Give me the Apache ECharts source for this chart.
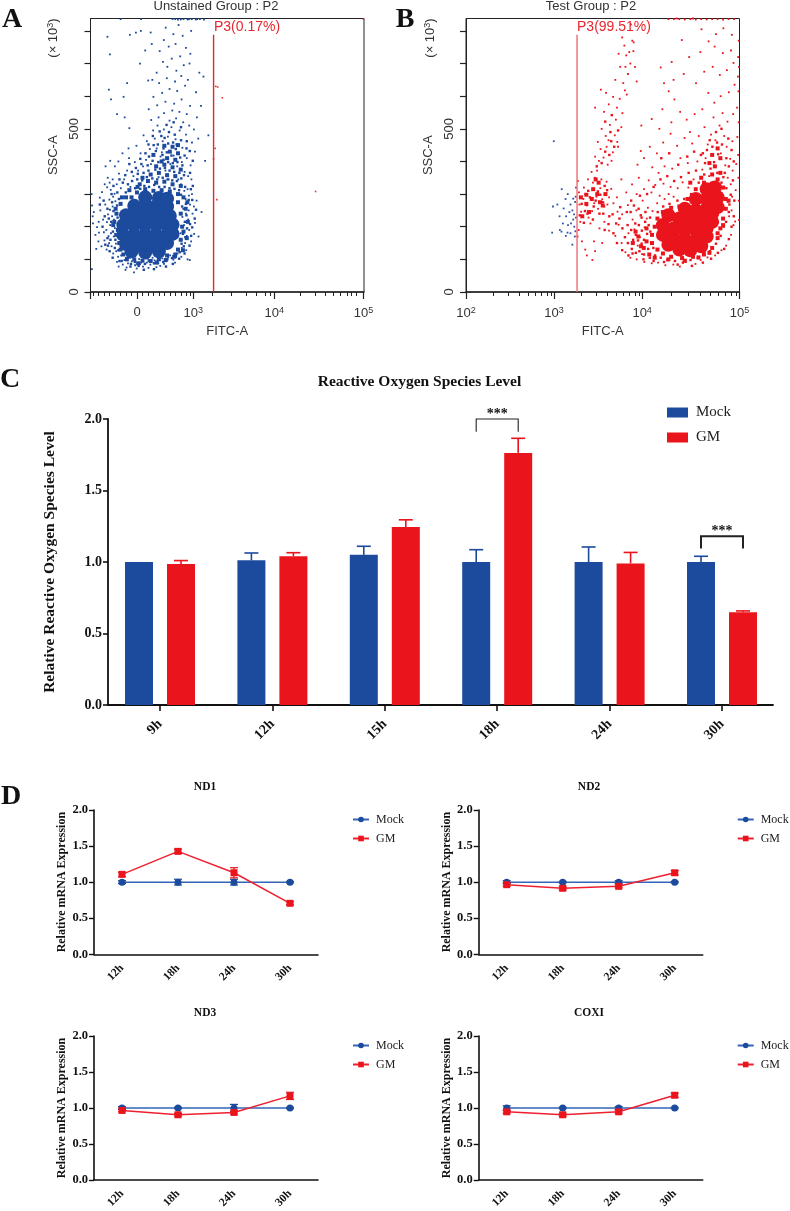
<!DOCTYPE html>
<html><head><meta charset="utf-8">
<style>html,body{margin:0;padding:0;background:#fff}#c{width:790px;height:1211px;filter:blur(0.35px)}</style>
<script src="https://cdn.jsdelivr.net/npm/echarts@6/dist/echarts.min.js"></script>
</head><body><div id="c"></div>
<script>
/* ---------- panel C data ---------- */
const hoursC = ['9h','12h','15h','18h','24h','30h'];
const mockC = [1.0,1.012,1.05,1.0,1.0,1.0];
const mockTopC = [1.0,1.063,1.11,1.086,1.105,1.04];
const gmC = [0.986,1.04,1.244,1.763,0.99,0.649];
const gmTopC = [1.01,1.065,1.295,1.865,1.067,0.658];
/* bracket: group index, top value, foot value */
const bracketsC = [[3,2.0,1.91],[5,1.18,1.095]];

/* ---------- panel D data ---------- */
const hoursD = ['12h','18h','24h','30h'];
const mockD = [1,1,1,1];
const gmND1 = [1.108,1.427,1.13,0.707];
const gmND2 = [0.965,0.915,0.942,1.13];
const gmND3 = [0.966,0.906,0.938,1.168];
const gmCOXI = [0.947,0.906,0.947,1.177];
const mockErrND1 = [0.02,0.04,0.04,0.01];
const gmErrND1 = [0.03,0.03,0.07,0.02];
const mockErrND2 = [0.02,0.01,0.02,0.01];
const gmErrND2 = [0.02,0.02,0.02,0.03];
const mockErrND3 = [0.02,0.01,0.05,0.01];
const gmErrND3 = [0.02,0.02,0.02,0.05];
const mockErrCOXI = [0.03,0.01,0.02,0.01];
const gmErrCOXI = [0.02,0.02,0.02,0.03];

/* ---------- panels A, B: events, as x,y pairs.
   x = percent of the plot width along FITC-A, y = SSC-A (x1000 channel units) ---------- */
const coreA = [15,125,20,122,25,125, 13,147,17,145,21,144,25,146,28,150, 12,175,16,174,20,176,24,175,28,176,30,178,
 12,205,16,204,20,206,24,205,28,204,30,206, 13,235,17,234,21,236,25,235,29,233, 16,264,20,266,24,263,28,262, 20,290,25,288,28,286];
const midA = [17,305,20,315,23,310,26,312,29,308,32,300,18,330,21,340,24,335,27,338,30,330,33,325,22,360,25,365,28,358,31,355,
 24,385,27,390,30,382,33,375,28,410,31,405,29,430,32,425,30,445,27,448,13,290,11,270,9.5,240,10,190,10.5,150,33,160,33.5,200,33,240,
 12,115,16,100,22,95,28,112,32,130,15,290,19,350,26,400,23,420,32,450,8.7,215,11,130,14,108,19,96,25,100,31,115,34,185,32,275,34,290,
 9.4,175,8.3,205,9.2,255,11.5,290,14.2,312,17.2,322,13.3,100,17.4,88,20.6,106,24.2,90,27.5,98,30.6,108,33.8,128,35.2,165,35.6,215,34.8,255,35.4,275];
const fineA = [9.1,160,8.2,185,7.6,215,9.9,228,8.4,248,9.7,265,10.4,285,7.9,275,6.7,225,7.3,160,8.9,135,10.2,128,11.4,95,13.1,104,14.8,86,16.2,92,17.6,80,19.9,86,21.3,96,23.2,88,24.6,96,26.6,92,28.1,100,29.8,104,31.2,108,32.6,122,34.1,140,33.3,148,34.7,168,33.8,178,35.3,195,34.5,215,36.4,208,35.1,235,33.5,262,34.9,270,35.9,282,33.1,298,34.6,322,
 12.9,305,14.4,312,16.3,318,18.2,316,19.7,325,21.4,322,23.3,328,25.1,322,27.1,322,28.9,318,30.7,316,32.4,312,13.7,330,15.2,340,17.1,345,18.9,342,20.6,352,22.6,348,24.4,345,26.4,350,28.2,345,29.9,342,31.6,340,33.2,348,15.1,368,17.3,362,19.4,365,21.2,372,23.7,375,25.4,378,27.2,380,28.9,372,30.6,368,32.5,365,34.2,358,18.6,392,20.9,388,22.7,402,24.8,398,26.7,405,28.4,398,30.1,395,31.8,398,33.6,388,21.4,415,23.9,432,26.3,420,27.9,428,29.6,418,31.2,438,32.8,412,34.4,418,24.6,452,26.7,440,28.4,455,30.2,458,31.5,452,33.1,465,35.1,440,23.1,450,25.9,478,28.7,490,30.8,482,27.1,472,
 5.4,145,6.2,165,4.4,200,5.2,232,6.2,255,4.8,280,3.4,268,7.7,300,8.4,325,9.8,305,11.8,335,10.6,345,12.7,358,14.2,392,16.6,380,18.2,408,20.1,425,21.2,452,22.8,478,25.3,492,27.8,512,30.4,520,33.1,505,35.2,462,36.3,432,37.4,402,36.4,365,37.4,325,36.7,315,37.2,282,38.6,252,38.1,225,37.2,198,36.8,172,36.2,142,34.4,118,32.4,102,30.1,86,27.6,78,23.2,70,19.5,68,14.6,78,10.6,95,8.1,105,7.0,125,6.4,142];
const fringeA = [8.5,170,7.2,205,6.4,238,8.1,262,9.3,148,5.8,190,4.6,222,7.7,140,6.9,283,8.8,301,5.1,158,3.6,250,2.4,199,4.2,306,6.1,321,7.9,232,8.9,196,9.4,125,10.1,108,8.3,118,6.6,171,5.4,268,3.1,182,1.2,245,0.6,265,0.9,210,2.1,132,0.5,70,3.4,289,7.4,313,9.6,330,8.1,345,6.3,350,10.4,363,
 7.1,252,6.0,214,4.9,183,8.6,222,7.5,180,6.8,150,5.9,130,9.1,278,8.3,292,7.0,335,5.2,330,3.0,215,1.8,175,0.8,232,0.4,300,2.9,155,4.0,140,
 11.2,112,12.4,98,13.7,88,15.1,94,16.3,82,17.8,101,19.2,78,20.6,90,21.9,84,23.4,97,24.8,88,26.2,103,27.7,94,29.1,112,30.3,99,31.8,118,33.2,108,14.2,110,18.5,90,22.7,105,25.5,80,28.4,106,16.9,72,13.2,75,11.8,84,9.7,92,15.9,60,10.3,78,21.2,74,26.9,86,30.9,90,35.5,100,36.3,98,12.8,68,18.1,85,24.1,76,
 33.4,135,34.6,150,35.2,172,36.1,190,34.2,205,35.7,222,37.3,240,33.9,255,36.4,268,38.2,212,34.8,285,37.1,300,39.5,170,35.5,315,33.1,330,36.9,345,38.8,280,40.6,245,32.9,180,33.6,230,35.0,128,36.8,155,37.9,178,34.9,240,36.0,295,35.9,250,34.3,310,37.8,262,
 14.6,322,12.3,345,11.1,318,15.7,355,13.4,372,17.4,372,19.2,385,16.2,398,14.1,410,20.3,405,22.1,392,18.3,425,21.7,438,24.2,440,20.6,462,23.5,470,26.4,462,28.3,476,31.1,468,33.6,442,35.2,410,36.6,388,34.4,368,35.7,355,38.2,430,37.1,458,34.9,482,32.6,495,29.6,505,26.8,498,24.5,510,22.9,495,19.4,480,16.8,448,13.9,440,11.7,425,10.2,400,8.9,385,7.2,402,5.5,385,31.7,385,26.1,428,29.2,392,32.1,345,28.6,345,24.9,352,25.6,415,27.4,372,30.4,418,33.4,398,
 28.9,525,31.3,532,33.9,520,36.1,510,24.9,535,22.2,527,26.9,548,29.9,556,32.5,552,35.2,545,37.8,498,39.4,470,41.9,402,43.1,480,21.3,560,24.4,572,27.4,583,30.6,577,33.3,590,36.4,570,23.0,598,26.2,610,28.9,622,31.7,616,34.6,632,25.1,640,27.9,655,30.9,645,33.2,662,35.6,650,22.6,650,24.2,672,28.1,690,31.4,678,34.1,695,36.2,700,26.5,705,29.7,715,32.8,722,36.5,730,25.3,738,28.6,752,31.1,760,34.9,748,26.8,772,30.3,790,33.7,785,27.5,810,32.2,818,36.8,800,
 38.9,535,40.4,570,38.6,612,41.3,660,39.8,672,14.2,502,12.5,535,9.7,545,7.5,590,12.1,598,13.4,640,6.7,620,7.1,728,6.2,782,14.4,788,18.4,800,16.6,795,21.1,648,18.1,700,20.0,740,22.4,760,22.0,795,
 11,836,18.5,836,30,836,32,835,34,836,35.5,835,37,836,38.5,835,40,836,41.5,835,36,836,33,835,31,836,39,836];
const pinkA = [99.8,836,45.8,630,46.5,628,48.2,595,45.6,440,45,408,46.2,283,82.3,308];

const coreB = [74,145,78,130,82,128,86,140, 72,175,76,165,80,160,84,160,88,170, 72,205,76,195,80,190,84,190,88,195,90,215, 74,235,78,225,82,220,86,220,90,240, 80,255,84,250,88,255,92,260, 84,285,88,285,92,290, 88,315,91,320];
const midB = [70,130,72,118,75,108,79,104,83,108,87,115,90,135,92,165,93,195,94,225,95,255,95,285,94,320,92,345,90,360,87,335,84,315,81,285,78,262,75,258,72,245,70,225,69,200,68,175,68,150,
 91,385,93,410,90,420,92,440,89,395,93,365,46,285,48,300,46.5,315,49,275,44,270,42,290,48.5,335,45,245,42.5,232,51,300,66,155,65,135,63,170,61,150,67,115,
 66,195,64,140,62,185,69,105,74,100,80,96,85,106,89,120,92,180,94,205,96,280,93,300,90,332,86,350,82,335,47.4,345,44,298,50,265];
const fineB = [66.2,178,65.1,160,64.3,188,63.2,205,62.1,175,61.1,160,60.4,190,59.1,205,58.1,168,57.2,195,56.1,225,54.9,210,53.6,238,52.4,232,66.8,205,67.3,228,65.6,245,64.2,228,63.1,255,61.4,265,60.2,245,69.1,112,67.2,105,65.1,115,63.4,125,68.5,135,66.6,132,64.2,148,62.1,120,60.6,132,59.2,150,71.2,105,73.6,98,76.4,95,79.3,90,82.1,98,84.8,104,87.1,122,89.2,125,91.4,148,93.1,172,94.2,200,95.1,215,96.1,245,96.3,268,96.8,298,95.2,318,93.4,335,94.1,352,91.9,365,89.4,378,87.1,360,85.1,335,82.3,300,79.8,285,77.3,280,74.4,270,72.1,262,70.1,245,
 90.7,398,92.2,422,88.1,435,90.1,445,91.8,458,93.6,452,95.2,410,96.1,385,94.6,365,87.4,395,85.9,420,83.4,430,80.9,415,77.6,390,74.3,425,71.4,410,
 43.5,248,44.4,240,45.3,290,46.7,262,47.4,280,48.2,308,49.1,298,50.1,275,50.7,325,51.6,312,44.7,310,43.1,212,42.3,270,41.6,235,48.8,240,46.4,222,50.2,240,
 47.8,385,49.6,395,50.9,430,52.4,420,53.1,462,54.2,445,52.8,490,50.9,522,53.3,542,55.6,495,
 57.1,128,55.2,150,53.9,180,52.1,208,50.7,190,61.9,210,63.9,235,65.5,215,67.4,185,60.9,118,62.9,158,58.8,245,56.4,260,60.4,280,63.6,295,66.2,300,68.6,322,71.1,345,73.6,355,76.1,340,78.6,352,81.4,365,84.1,372,86.6,425,89.1,465,91.4,490,93.4,500,95.9,470,97.1,435,97.9,400,97.6,342,98.1,280,97.9,232,97.1,200,96.1,162,94.4,132,92.1,120,89.6,102,86.6,90,82.6,80,77.4,84,72.4,92,68.6,95,64.9,100,59.4,112];
const fringeB = [41.2,190,41.8,215,42.1,246,41.5,268,42.9,285,43.6,300,44.2,265,44.8,228,45.5,210,46.1,248,46.9,272,47.7,292,48.3,255,49.1,318,49.8,284,50.6,262,51.4,338,52.3,290,53.1,316,47.1,350,45.9,368,47.9,372,49.5,345,46.4,335,43.1,320,41.3,305,44.6,345,50.7,300,51.7,268,53.9,272,55.4,246,
 47.2,415,48.6,402,50.3,412,51.8,390,53.2,402,49.2,438,51.4,445,53.7,428,55.3,460,54.4,480,51.1,478,49.6,500,52.6,512,54.8,528,56.8,505,50.5,552,52.2,575,55.2,565,57.2,548,51.2,610,53.8,598,56.2,592,58.8,605,47.2,565,49.3,620,54.6,650,57.5,640,59.2,668,56.4,690,60.1,700,58.6,725,61.2,738,60.8,770,57.9,755,55.8,730,61.8,690,62.4,645,58.1,618,55.6,445,52.1,465,48.2,460,
 60.3,820,61.3,765,58.3,690,59.7,735,57.1,780,
 49.8,150,46.8,155,47.2,125,48.8,195,50.6,215,52.3,188,54.6,172,55.8,206,56.9,150,58.3,122,59.4,180,60.9,222,61.6,192,62.8,142,63.6,168,64.4,116,65.3,198,66.1,225,62.3,250,59.2,266,57.1,238,55.2,290,58.6,305,60.7,330,56.8,345,62.4,300,64.6,280,66.5,258,68.2,248,69.9,272,65.1,315,67.8,305,70.8,295,72.6,285,74.1,300,75.9,292,63.2,350,66.8,342,69.2,328,72.2,332,74.8,322,77.4,318,79.2,336,81.3,320,83.2,345,
 60.1,105,62.4,100,65.2,92,67.9,88,70.2,90,72.9,82,75.8,84,78.2,78,80.4,92,83.9,86,85.8,98,88.3,106,91.1,112,93.4,128,95.1,142,96.9,175,97.8,205,98.4,216,96.2,232,97.1,250,95.8,276,97.3,292,98.6,312,96.8,330,95.7,350,97.5,372,98.8,392,96.6,408,94.8,388,93.2,425,95.3,445,97.4,462,99.2,475,94.4,478,91.2,465,88.4,452,89.6,482,92.7,510,95.6,522,97.7,545,99.1,565,93.8,548,90.5,535,87.2,505,85.1,478,82.7,455,79.9,472,77.2,448,74.8,485,72.1,458,69.8,425,67.2,445,65.1,410,62.7,390,63.9,432,
 84.6,400,87.6,410,81.1,395,78.4,410,75.4,378,72.6,385,70.4,365,68.1,382,86.4,375,88.9,355,
 90.8,580,93.1,600,96.1,612,98.2,635,99.4,660,88.6,610,86.4,560,83.6,545,80.7,528,78.3,552,76.2,590,74.1,615,71.8,560,72.4,640,75.9,650,79.6,668,84.1,640,87.1,675,90.2,690,92.8,665,95.4,680,97.8,702,99.5,720,96.9,740,93.9,732,90.9,752,88.7,768,85.7,735,81.6,720,78.9,772,75.2,705,71.2,688,91.4,790,94.1,808,97.2,788,99.7,770,86.1,805,64.1,510,67.9,530,70.7,500,75.1,520,81.9,490,
 74,836,76,836,78,836,80,835,82,836,84,835,86,836,88,835,90,836,92,836,94,835,96,836,98,836,83,838,77,838,
 99.6,615,99.7,520,99.5,420,99.8,690,99.6,350,99.7,280,99.8,220,
 42.4,155,43.6,130,44.2,112,46.2,98,40.8,170,40.9,340];
const blueB = [32.1,462,35.0,315,31.8,262,31.5,182,33.4,268,34.2,232,35.7,256,36.4,285,37.2,300,38.2,268,38.9,250,39.5,238,40.2,320,40.1,292,39.9,276,39.2,222,38.4,210,37.3,205,36.6,232,35.4,210,34.3,190,34.9,185,36.5,172,37.1,182,38.2,180,39.6,200,40.0,186,39.8,170,40.2,228,38.9,145,39.2,286,37.8,245];

/* axis tick positions, percent of plot width */
const majorTicksA = [0,17.07,37.6,67.2,99.8];
const majorLabelsA = {17.07:'0',37.6:'10{s|3}',67.2:'10{s|4}',99.8:'10{s|5}'};
const minorTicksA = [1,3,5,7,9,11,13,15,19,21,23,25,27,29,31,33,35,36.5,44.5,51.6,57,60.7,63.8,65.6,76.6,82,85.7,88.8,91.2,93.7,95.5,97.3];
const majorTicksB = [0,32.2,64.4,100];
const majorLabelsB = {0:'10{s|2}',32.2:'10{s|3}',64.4:'10{s|4}',100:'10{s|5}'};
const minorTicksB = [10,15.6,19.5,22.7,25.4,27.6,29.7,31.3,42.2,47.8,51.7,54.9,57.6,59.8,61.9,63.5,75.1,81.4,85.8,89.3,92.3,94.8,97.1,98.8];
const sscTicks = [0,100,200,300,400,500,600,700,800];
const gateA = [[45,0],[45,788]];
const gateB = [[40.6,0],[40.6,788]];

/* ---------- styling ---------- */
const BLUE='#1c4a9c', RED='#ea141c', LBLUE='#3565b8', LRED='#ee2030', INK='#111';
const SANS='"Liberation Sans",Arial,sans-serif', SERIF='"Liberation Serif","Times New Roman",serif';
const pairs = f => { const o=[]; for(let i=0;i<f.length;i+=2) o.push([f[i],f[i+1]]); return o; };

const grid=[], xAxis=[], yAxis=[], series=[], legend=[], title=[], graphic=[];
const addTitle=(text,x,y,size,font,color)=>title.push({text,left:x,top:y,padding:0,textAlign:'center',textVerticalAlign:'middle',
  textStyle:{fontFamily:font,fontSize:size,fontWeight:font===SERIF?'bold':'normal',color:color||(font===SERIF?'#111':'#333')}});

/* ---------- flow panels ---------- */
function flow(o){
  const g=grid.length;
  grid.push({left:o.x,top:18.5,width:273.5,height:273.5,show:true,borderColor:'#222',borderWidth:1,backgroundColor:'transparent'});
  const xi=xAxis.length, yi=yAxis.length;
  const richS={s:{fontSize:9,verticalAlign:'top',padding:[0,0,5,0],fontFamily:SANS,color:'#333'}};
  xAxis.push({gridIndex:g,type:'value',min:0,max:100,position:'bottom',splitLine:{show:false},
    axisLine:{show:true,onZero:false,lineStyle:{color:'#222',width:1.5}},
    axisTick:{show:true,length:7,customValues:o.major,lineStyle:{color:'#222',width:1.2}},
    axisLabel:{show:true,margin:14,fontFamily:SANS,fontSize:13,color:'#333',customValues:o.major.filter(v=>o.labels[v]!==undefined),
      formatter:v=>o.labels[v]||'',rich:richS},
    name:'FITC-A',nameLocation:'middle',nameGap:33,nameTextStyle:{fontFamily:SANS,fontSize:13,color:'#333'}});
  xAxis.push({gridIndex:g,type:'value',min:0,max:100,position:'bottom',splitLine:{show:false},
    axisLine:{show:false,onZero:false},axisTick:{show:true,length:4,customValues:o.minor,lineStyle:{color:'#222',width:1}},axisLabel:{show:false}});
  yAxis.push({gridIndex:g,type:'value',min:0,max:838,position:'left',splitLine:{show:false},
    axisLine:{show:true,onZero:false,lineStyle:{color:'#222',width:1}},
    axisTick:{show:true,length:6,customValues:sscTicks,lineStyle:{color:'#222',width:1.2}},
    axisLabel:{show:true,rotate:90,margin:10,fontFamily:SANS,fontSize:13,color:'#333',customValues:[0,500],formatter:v=>String(v)},
    name:'SSC-A',nameLocation:'middle',nameGap:31,nameTextStyle:{fontFamily:SANS,fontSize:13,color:'#333'}});
  const sc=(name,data,color,size,z)=>series.push({type:'scatter',name,xAxisIndex:xi,yAxisIndex:yi,data:pairs(data),symbol:size>6?'circle':'rect',
    symbolSize:size,itemStyle:{color,opacity:1},silent:true,z:z||2,animation:false,clip:true});
  o.points.forEach(p=>sc(p[0],p[1],p[2],p[3],p[4]));
  series.push({type:'line',name:o.gateName,xAxisIndex:xi,yAxisIndex:yi,data:o.gate,symbol:'none',lineStyle:{color:o.gateColor,width:1.4},z:4,silent:true});
}
flow({x:90.5,major:majorTicksA,labels:majorLabelsA,minor:minorTicksA,gate:gateA,gateName:'gate A',gateColor:'#e8262e',
  points:[['events A core',coreA,BLUE,14],['events A dense',midA,BLUE,4],['events A fine',fineA,BLUE,2.4],['events A',fringeA,BLUE,1.8],['events A P3',pinkA,'#f0303a',1.6,3]]});
flow({x:466,major:majorTicksB,labels:majorLabelsB,minor:minorTicksB,gate:gateB,gateName:'gate B',gateColor:'#ee6b72',
  points:[['events B core',coreB,RED,14],['events B dense',midB,RED,4],['events B fine',fineB,RED,2.4],['events B',fringeB,RED,1.8],['events B P2',blueB,'#2a56a8',1.8,3]]});

addTitle('Unstained Group : P2',216,6.5,13,SANS);
addTitle('Test Group : P2',591,6.5,13,SANS);
addTitle('P3(0.17%)',247,27,14,SANS,'#e8262e');
addTitle('P3(99.51%)',614,27,14,SANS,'#e8262e');
const rotText=(x,y)=>graphic.push({type:'text',x,y,rotation:Math.PI/2,silent:true,style:{text:'(\u00d7 10{s|3})',fill:'#333',font:'13px '+SANS,align:'center',verticalAlign:'middle',
  rich:{s:{fontSize:9,verticalAlign:'top',fill:'#333',font:'9px '+SANS}}}});
rotText(53,38); rotText(430,38);

addTitle('A',12,20,28,SERIF); addTitle('B',405,20,28,SERIF); addTitle('C',10,380,28,SERIF); addTitle('D',11,797,28,SERIF);

/* ---------- line charts first so that their legends take the line icon ---------- */
function panelD(o){
  const g=grid.length; const xi=xAxis.length, yi=yAxis.length;
  grid.push({left:o.x,top:o.y,width:224,height:o.h});
  xAxis.push({gridIndex:g,type:'category',data:hoursD,boundaryGap:true,
    axisLine:{lineStyle:{color:INK,width:1.6}},axisTick:{alignWithLabel:true,length:5,lineStyle:{color:INK,width:1.4}},
    axisLabel:{rotate:45,margin:12,interval:0,fontFamily:SERIF,fontWeight:'bold',fontSize:11.5,color:INK}});
  yAxis.push({gridIndex:g,type:'value',min:0,max:2,interval:0.5,splitLine:{show:false},
    axisLine:{show:true,lineStyle:{color:INK,width:1.6}},axisTick:{show:true,length:5,lineStyle:{color:INK,width:1.4}},
    axisLabel:{margin:6,fontFamily:SERIF,fontWeight:'bold',fontSize:12.5,color:INK,formatter:v=>v.toFixed(1)},
    name:'Relative mRNA Expression',nameLocation:'middle',nameGap:26,nameTextStyle:{fontFamily:SERIF,fontWeight:'bold',fontSize:12,color:INK}});
  const line=(name,data,color,mcolor,symbol,size,z)=>series.push({type:'line',name,xAxisIndex:xi,yAxisIndex:yi,data,symbol,symbolSize:size,
    lineStyle:{color,width:1.5},itemStyle:{color:mcolor},z,silent:true});
  const err=(name,vals,errs,color)=>series.push({type:'custom',name,xAxisIndex:xi,yAxisIndex:yi,silent:true,z:2,clip:false,
    data:vals.map((v,i)=>[i,v-errs[i],v+errs[i]]),encode:{x:0,y:[1,2]},
    renderItem:(p,api)=>{const a=api.coord([api.value(0),api.value(1)]),b=api.coord([api.value(0),api.value(2)]);
      const st={stroke:color,lineWidth:1.2};
      return {type:'group',children:[
        {type:'line',shape:{x1:a[0],y1:a[1],x2:b[0],y2:b[1]},style:st},
        {type:'line',shape:{x1:a[0]-4,y1:a[1],x2:a[0]+4,y2:a[1]},style:st},
        {type:'line',shape:{x1:b[0]-4,y1:b[1],x2:b[0]+4,y2:b[1]},style:st}]};}});
  err('Mock error',mockD,o.mockErr,BLUE); err('GM error',o.gm,o.gmErr,RED);
  line('Mock',mockD,LBLUE,BLUE,'circle',7,3);
  line('GM',o.gm,LRED,RED,'rect',7,4);
  addTitle(o.title,o.tx,o.ty,11.5,SERIF);
  legend.push({orient:'vertical',left:o.x+258,top:o.ly,padding:0,itemWidth:16,itemHeight:7,itemGap:7,selectedMode:false,data:['Mock','GM'],
    textStyle:{fontFamily:SERIF,fontSize:12,color:'#222',padding:[0,0,0,2]}});
}
panelD({x:94,y:810,h:144.3,title:'ND1',tx:205,ty:787,ly:813.5,gm:gmND1,mockErr:mockErrND1,gmErr:gmErrND1});
panelD({x:478.7,y:810,h:144.3,title:'ND2',tx:589,ty:787,ly:813.5,gm:gmND2,mockErr:mockErrND2,gmErr:gmErrND2});
panelD({x:94,y:1036,h:145,title:'ND3',tx:205,ty:1013,ly:1039.5,gm:gmND3,mockErr:mockErrND3,gmErr:gmErrND3});
panelD({x:478.7,y:1036,h:145,title:'COXI',tx:589,ty:1013,ly:1039.5,gm:gmCOXI,mockErr:mockErrCOXI,gmErr:gmErrCOXI});

/* ---------- panel C ---------- */
(function(){
  const g=grid.length, xi=xAxis.length, yi=yAxis.length;
  grid.push({left:108,top:419,width:665,height:286});
  xAxis.push({gridIndex:g,type:'value',min:-0.4626,max:5.4537,splitLine:{show:false},
    axisLine:{onZero:false,lineStyle:{color:INK,width:1.8}},
    axisTick:{length:6,customValues:[0,1,2,3,4,5],lineStyle:{color:INK,width:1.6}},
    axisLabel:{rotate:45,margin:17,fontFamily:SERIF,fontWeight:'bold',fontSize:14,color:INK,customValues:[0,1,2,3,4,5],formatter:v=>hoursC[v]}});
  yAxis.push({gridIndex:g,type:'value',min:0,max:2,interval:0.5,splitLine:{show:false},
    axisLine:{show:true,onZero:false,lineStyle:{color:INK,width:1.8}},axisTick:{show:true,length:5,lineStyle:{color:INK,width:1.6}},
    axisLabel:{margin:6,fontFamily:SERIF,fontWeight:'bold',fontSize:14,color:INK,formatter:v=>v.toFixed(1)},
    name:'Relative Reactive Oxygen Species Level',nameLocation:'middle',nameGap:50,nameTextStyle:{fontFamily:SERIF,fontWeight:'bold',fontSize:15.5,color:INK}});
  const bar=(name,vals,color)=>series.push({type:'bar',name,xAxisIndex:xi,yAxisIndex:yi,data:vals.map((v,i)=>[i,v]),barWidth:28,barGap:'50%',itemStyle:{color},silent:true,z:2});
  bar('Mock bars',mockC,BLUE); bar('GM bars',gmC,RED);
  const err=(name,vals,tops,color,off)=>series.push({type:'custom',name,xAxisIndex:xi,yAxisIndex:yi,silent:true,z:1,clip:false,
    data:vals.map((v,i)=>[i,v,tops[i]]),encode:{x:0,y:[1,2]},
    renderItem:(p,api)=>{ if(api.value(2)<=api.value(1)) return null;
      const a=api.coord([api.value(0),api.value(1)]),b=api.coord([api.value(0),api.value(2)]);
      const st={stroke:color,lineWidth:1.6};
      return {type:'group',children:[
        {type:'line',shape:{x1:a[0]+off,y1:a[1],x2:b[0]+off,y2:b[1]},style:st},
        {type:'line',shape:{x1:b[0]+off-7,y1:b[1],x2:b[0]+off+7,y2:b[1]},style:st}]};}});
  err('Mock error bars',mockC,mockTopC,BLUE,-21); err('GM error bars',gmC,gmTopC,RED,21);
  series.push({type:'custom',name:'significance',xAxisIndex:xi,yAxisIndex:yi,silent:true,z:5,clip:false,
    data:bracketsC,encode:{x:0,y:[1,2]},
    renderItem:(p,api)=>{const t=api.coord([api.value(0),api.value(1)]),f=api.coord([api.value(0),api.value(2)]);
      const w=p.dataIndex===1?2:1.1, st={stroke:'#222',lineWidth:w,fill:'none'};
      return {type:'group',children:[
        {type:'polyline',shape:{points:[[t[0]-21,f[1]],[t[0]-21,t[1]],[t[0]+21,t[1]],[t[0]+21,f[1]]]},style:st},
        {type:'text',x:t[0],y:t[1]-5,style:{text:'***',fill:'#111',align:'center',verticalAlign:'middle',font:'bold 14px '+SERIF}}]};}});
  addTitle('Reactive Oxygen Species Level',419.5,382,15.5,SERIF);
  legend.push({orient:'vertical',left:667,top:405,padding:0,itemWidth:21,itemHeight:10,itemGap:10,selectedMode:false,icon:'rect',
    data:['Mock bars','GM bars'],formatter:n=>n.replace(' bars',''),
    textStyle:{fontFamily:SERIF,fontSize:15,color:'#222',padding:[0,0,0,3]}});
})();

const chart=echarts.init(document.getElementById('c'),null,{renderer:'canvas'});
chart.setOption({animation:false,backgroundColor:'#fff',title,grid,xAxis,yAxis,series,legend,graphic,tooltip:{show:false}});
</script></body></html>
